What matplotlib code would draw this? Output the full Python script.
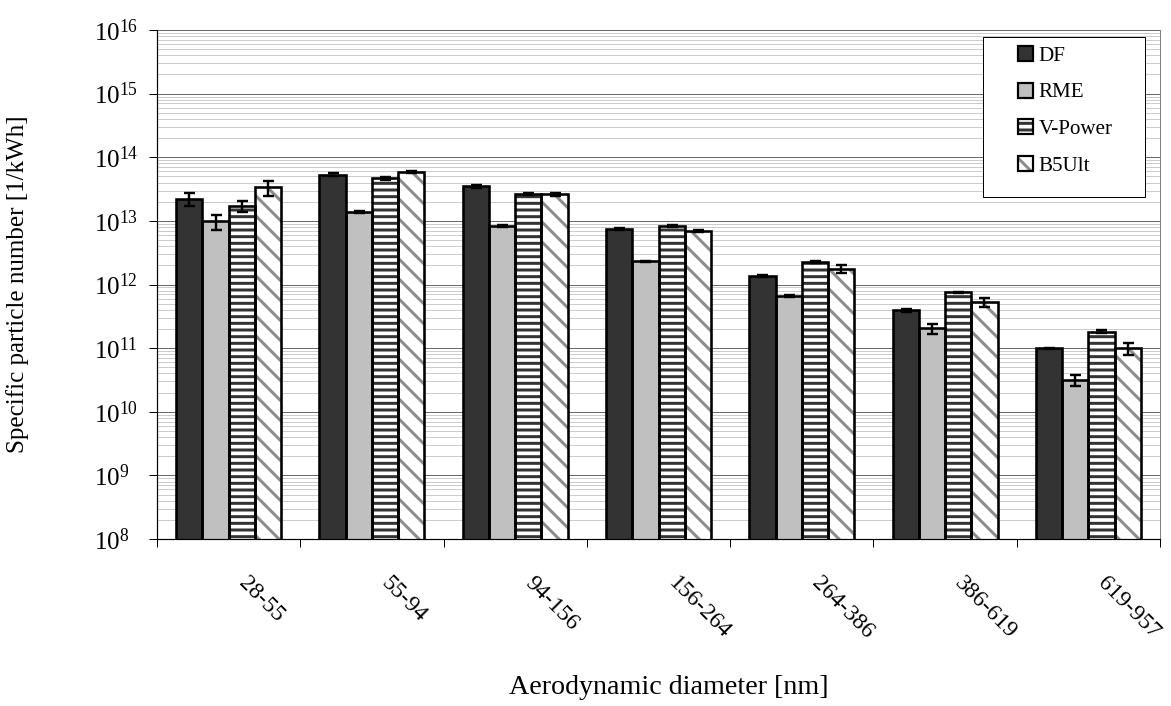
import matplotlib
matplotlib.use("Agg")
import matplotlib.pyplot as plt
import numpy as np
from matplotlib.patches import Patch, Rectangle
from matplotlib.transforms import blended_transform_factory, ScaledTranslation
from matplotlib.legend_handler import HandlerTuple
from matplotlib.ticker import LogLocator, NullFormatter

# ---------------- data ----------------
categories = ["28-55", "55-94", "94-156", "156-264", "264-386", "386-619", "619-957"]
series_names = ["DF", "RME", "V-Power", "B5Ult"]

df_vals = [2.23e13, 5.3e13, 3.48e13, 7.55e12, 1.35e12, 3.95e11, 9.9e10]
rme_vals = [9.8e12, 1.38e13, 8.2e12, 2.32e12, 6.6e11, 2.04e11, 3.15e10]
vp_vals = [1.72e13, 4.65e13, 2.67e13, 8.2e12, 2.27e12, 7.5e11, 1.81e11]
b5_vals = [3.4e13, 5.8e13, 2.6e13, 6.9e12, 1.76e12, 5.28e11, 1.0e11]

df_err = [5.3e12, 3.0e12, 1.5e12, 3.0e11, 5.0e10, 2.0e10, 2.0e9]
rme_err = [2.6e12, 6.0e11, 3.0e11, 5.0e10, 2.0e10, 3.7e10, 6.0e9]
vp_err = [3.6e12, 3.0e12, 1.0e12, 3.0e11, 8.0e10, 2.0e10, 1.0e10]
b5_err = [9.0e12, 2.0e12, 1.5e12, 2.0e11, 2.3e11, 9.0e10, 2.2e10]

exponents = [8, 9, 10, 11, 12, 13, 14, 15, 16]

# ---------------- style ----------------
DPI = 120
W, H = 1171, 706
PX = 72.0 / DPI  # points per pixel

plt.rcParams["font.family"] = ["Liberation Serif", "DejaVu Serif"]
plt.rcParams["mathtext.fontset"] = "custom"
plt.rcParams["mathtext.rm"] = "Liberation Serif"
plt.rcParams["mathtext.it"] = "Liberation Serif:italic"
plt.rcParams["mathtext.bf"] = "Liberation Serif:bold"
plt.rcParams["hatch.linewidth"] = 3.0 * PX

fig = plt.figure(figsize=(W / DPI, H / DPI), dpi=DPI)
fig.patch.set_facecolor("white")
ax = fig.add_axes([157 / W, 1 - 539 / H, (1160 - 157) / W, (539 - 30) / H])

ax.set_yscale("log")
ax.set_ylim(10.0 ** exponents[0], 10.0 ** exponents[-1])
ax.set_xlim(-0.5, len(categories) - 0.5)

# grid
ax.yaxis.set_minor_locator(LogLocator(base=10, subs=np.arange(2, 10), numticks=100))
ax.yaxis.set_minor_formatter(NullFormatter())
ax.grid(which="minor", axis="y", color="#cccccc", linewidth=1.0 * PX)
ax.grid(which="major", axis="y", color="#6a6a6a", linewidth=1.0 * PX)
ax.set_axisbelow(True)

# spines
ax.spines["top"].set_visible(False)
ax.spines["right"].set_color("#808080")
ax.spines["right"].set_linewidth(1.0 * PX)
ax.spines["left"].set_linewidth(1.2 * PX)
ax.spines["bottom"].set_linewidth(1.2 * PX)

# ticks
ax.set_yticks([10.0 ** e for e in exponents],
              [r"$\mathregular{10^{%d}}$" % e for e in exponents])
ax.tick_params(axis="y", which="major", direction="out", length=8 * PX, width=1.0 * PX,
               labelsize=25 * PX, pad=55 * PX)
ax.tick_params(axis="y", which="minor", length=0)
for lab in ax.get_yticklabels():
    lab.set_horizontalalignment("left")

ax.set_xticks(np.arange(-0.5, len(categories), 1.0))
ax.set_xticklabels([])
ax.tick_params(axis="x", which="major", direction="out", length=8 * PX, width=1.0 * PX)

# bars
n_series = len(series_names)
width = 0.183
offsets = (np.arange(n_series) - (n_series - 1) / 2) * width
values = [df_vals, rme_vals, vp_vals, b5_vals]
errors = [df_err, rme_err, vp_err, b5_err]
faces = ["#333333", "#c0c0c0", "white", "white"]
hatches = [None, None, "---", "\\\\"]
hatch_colors = [None, None, "#333333", "#8c8c8c"]

xpos = np.arange(len(categories))
handles = []
for i in range(n_series):
    x = xpos + offsets[i]
    if hatches[i]:
        ax.bar(x, values[i], width, color=faces[i], edgecolor=hatch_colors[i],
               linewidth=0, hatch=hatches[i], zorder=2)
    else:
        ax.bar(x, values[i], width, color=faces[i], linewidth=0, zorder=2)
    ax.bar(x, values[i], width, fill=False, edgecolor="black",
           linewidth=2.6 * PX, zorder=3)
    ax.errorbar(x, values[i], yerr=errors[i], fmt="none", ecolor="black",
                elinewidth=2.4 * PX, capsize=5.5 * PX, capthick=2.4 * PX, zorder=4)
    if hatches[i]:
        h_fill = Patch(facecolor=faces[i], edgecolor=hatch_colors[i], linewidth=0,
                       hatch=hatches[i])
    else:
        h_fill = Patch(facecolor=faces[i], linewidth=0)
    h_edge = Patch(fill=False, edgecolor="black", linewidth=2.2 * PX)
    handles.append((h_fill, h_edge))

# x category labels (rotated)
tr = blended_transform_factory(ax.transData, ax.transAxes) + \
    ScaledTranslation(13 / DPI, -41 / DPI, fig.dpi_scale_trans)
for i, c in enumerate(categories):
    ax.text(xpos[i], 0, c, transform=tr, rotation=-45, rotation_mode="anchor",
            ha="left", va="center", fontsize=23.5 * PX)

# legend box
x0 = (983 - 157) / 1003
x1 = (1145 - 157) / 1003
y0 = (539 - 197) / 509
y1 = (539 - 37) / 509
ax.add_patch(Rectangle((x0, y0), x1 - x0, y1 - y0, transform=ax.transAxes,
                       facecolor="white", edgecolor="black", linewidth=1.0 * PX,
                       zorder=5))
leg = ax.legend(handles, series_names, handler_map={tuple: HandlerTuple(ndivide=1, pad=0)},
                loc="upper left",
                bbox_to_anchor=((1018 - 157) / 1003, (539 - 46) / 509),
                frameon=False, fontsize=21 * PX, borderpad=0, borderaxespad=0,
                handlelength=0.72, handleheight=0.72, handletextpad=0.25,
                labelspacing=0.8)
leg.set_zorder(6)

# axis titles
fig.text(18 / W, 1 - 284 / H, "Specific particle number [1/kWh]", rotation=90,
         ha="center", va="center", fontsize=25 * PX)
fig.text(669 / W, 1 - 688 / H, "Aerodynamic diameter [nm]", ha="center", va="center",
         fontsize=28 * PX)

fig.savefig("out.png", dpi=DPI, facecolor="white")
